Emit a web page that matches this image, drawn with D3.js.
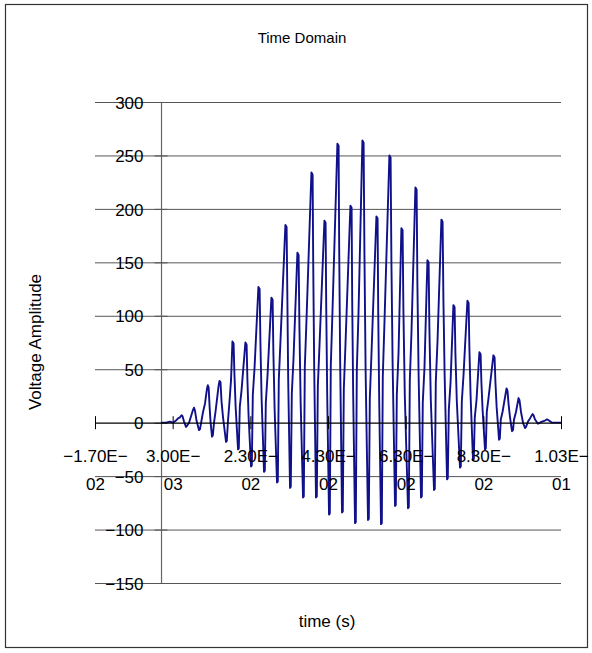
<!DOCTYPE html>
<html><head><meta charset="utf-8">
<script src="https://cdn.jsdelivr.net/npm/d3@7"></script>
<style>
body{margin:0;background:#fff}
svg{display:block}
text{font-family:"Liberation Sans",Arial,sans-serif;fill:#000}
</style>
</head><body>
<svg id="chart" width="592" height="653"></svg>
<script>
// ---- data, one row per oscillation ----
const timeS = [
  0,0.00129,0.00232,0.00309,0.00386,0.00438,0.00489,0.00528,0.00554,0.00592,
  0.00644,0.00670,0.00721,0.00773,0.00824,0.00850,0.00876,0.00914,0.00979,0.01004,
  0.01043,0.01082,0.01133,0.01185,0.01205,0.01226,0.01251,0.01277,0.01313,0.01334,
  0.01365,0.01403,0.01442,0.01481,0.01506,0.01532,0.01558,0.01597,0.01674,0.01694,
  0.01725,0.01764,0.01803,
  0.01839,0.01869,0.01890,0.01921,0.01983,0.02003,0.02029,0.02073,
  0.02173,0.02204,0.02225,0.02256,0.02318,0.02338,0.02364,0.02408,
  0.02508,0.02539,0.02560,0.02590,0.02652,0.02673,0.02699,0.02742,
  0.02843,0.02874,0.02894,0.02925,0.02987,0.03008,0.03033,0.03077,
  0.03203,0.03234,0.03250,0.03275,0.03322,0.03342,0.03368,0.03412,
  0.03512,0.03543,0.03564,0.03595,0.03657,0.03677,0.03703,0.03747,
  0.03873,0.03904,0.03919,0.03945,0.03991,0.04012,0.04038,0.04081,
  0.04208,0.04238,0.04254,0.04280,0.04326,0.04347,0.04372,0.04416,
  0.04542,0.04573,0.04589,0.04614,0.04661,0.04681,0.04707,0.04751,
  0.04877,0.04908,0.04923,0.04949,0.04996,0.05016,0.05042,0.05086,
  0.05186,0.05217,0.05238,0.05268,0.05330,0.05351,0.05377,0.05420,
  0.05547,0.05577,0.05593,0.05619,0.05665,0.05686,0.05711,0.05755,
  0.05881,0.05912,0.05933,0.05964,0.06026,0.06046,0.06072,0.06116,
  0.06190,0.06221,0.06242,0.06278,0.06360,0.06381,0.06407,0.06450,
  0.06551,0.06582,0.06602,0.06633,0.06695,0.06716,0.06741,0.06785,
  0.06860,0.06891,0.06911,0.06947,0.07030,0.07050,0.07076,0.07120,
  0.07220,0.07251,0.07272,0.07303,0.07365,0.07385,0.07411,0.07455,
  0.07529,0.07560,0.07581,0.07617,0.07699,0.07720,0.07746,0.07789,
  0.07890,0.07921,0.07941,0.07972,0.08034,0.08055,0.08080,0.08124,
  0.08199,0.08230,0.08250,0.08281,0.08343,0.08364,0.08389,0.08433,
  0.08559,0.08590,0.08611,0.08642,0.08704,0.08724,0.08750,0.08794,
  0.08897,0.08922,0.08948,0.08987,0.09038,0.09064,0.09090,0.09141,0.09206,0.09231,
  0.09270,0.09322,0.09373,0.09399,0.09450,0.09502,0.09566,0.09592,0.09631,0.09708,
  0.09759,0.09811,0.09888,0.09940,0.09991,0.10068,0.10171,0.10300];
const voltage = [
  0,0,1,0,2,4,5,7,6,1,
  -4,-3,0,6,12,14,11,2,-7,-6,
  2,10,18,32,35,33,15,0,-13,-12,
  0,10,22,34,39,38,20,5,-18,-17,
  2,20,40,
  76,74,46,15,-25,-24,15,30,
  75,73,40,5,-41,-40,26,51,
  127,125,75,23,-46,-45,19,44,
  117,115,65,13,-56,-55,40,77,
  185,183,130,40,-61,-60,27,60,
  159,157,90,20,-70,-69,52,97,
  234,232,150,50,-70,-69,34,72,
  189,187,110,25,-86,-85,53,105,
  261,259,160,55,-84,-83,31,74,
  203,201,115,25,-94,-93,49,103,
  264,262,160,50,-91,-90,23,65,
  193,191,105,20,-95,-94,43,95,
  250,248,150,55,-78,-77,26,65,
  182,180,105,25,-80,-79,40,85,
  220,218,130,45,-70,-69,19,52,
  152,150,88,22,-63,-62,38,76,
  190,188,115,45,-53,-52,12,37,
  110,108,65,20,-42,-41,20,44,
  114,112,70,25,-35,-34,5,21,
  66,64,38,12,-25,-24,10,23,
  63,61,38,15,-16,-15,3,10,
  32,30,18,5,-8,-7,3,10,23,21,
  10,0,-5,-4,1,4,8,7,3,-1,
  0,1,2,3,2,0,0,0];
const yTicks = [-150,-100,-50,0,50,100,150,200,250,300];
const xTicks = [-0.017,0.003,0.023,0.043,0.063,0.083,0.103];
const xTickLabels = ["-1.70E-02","3.00E-03","2.30E-02","4.30E-02","6.30E-02","8.30E-02","1.03E-01"];
const chartTitle = "Time Domain";
const xTitle = "time (s)";
const yTitle = "Voltage Amplitude";

// ---- layout ----
const svg = d3.select("#chart");
const x = d3.scaleLinear().domain([-0.017, 0.103]).range([95, 561]);
const y = d3.scaleLinear().domain([-150, 300]).range([583, 102]);
const fixMinus = s => String(s).replace(/-/g, "\u2212");
const n = Math.min(timeS.length, voltage.length);
const pts = d3.range(n).map(i => [timeS[i], voltage[i]]);

svg.append("rect").attr("x",5.5).attr("y",4.5).attr("width",582).attr("height",643)
  .attr("fill","#fff").attr("stroke","#333").attr("stroke-width",1.2);

// gridlines
const grid = svg.append("g").attr("transform","translate(95,0)")
  .call(d3.axisLeft(y).tickValues(yTicks.filter(d=>d!==0)).tickSize(-(561-95)).tickFormat(""));
grid.select(".domain").remove();
grid.selectAll("line").attr("stroke","#555").attr("stroke-width",1);

// y axis
const yAxis = svg.append("g").attr("transform",`translate(${x(0)},0)`)
  .call(d3.axisLeft(y).tickValues(yTicks).tickSizeInner(6.5).tickSizeOuter(0).tickPadding(11)
    .tickFormat(d => fixMinus(d)));
yAxis.select(".domain").attr("stroke","#666").attr("stroke-width",1.2);
yAxis.selectAll(".tick line").attr("x1",-6.5).attr("x2",6.5).attr("stroke","#555");
yAxis.selectAll(".tick text").attr("font-size",17).attr("font-family","Liberation Sans, Arial, sans-serif")
  .attr("fill","#000").attr("dy","0.36em");

// waveform
const line = d3.line().x(d => x(d[0])).y(d => y(d[1]));
svg.append("path").datum(pts).attr("d",line).attr("fill","none")
  .attr("stroke","#10108a").attr("stroke-width",1.9).attr("stroke-linejoin","round");

// x axis at y=0
const xAxis = svg.append("g").attr("transform",`translate(0,${y(0)})`)
  .call(d3.axisBottom(x).tickValues(xTicks).tickSizeInner(6.5).tickSizeOuter(0).tickFormat(""));
xAxis.select(".domain").attr("stroke","#000").attr("stroke-width",1.2);
xAxis.selectAll(".tick line").attr("y1",-6.5).attr("y2",6.5).attr("stroke","#000");
xAxis.selectAll(".tick").each(function(d,i){
  const lab = xTickLabels[i];
  const k = lab.indexOf("E-") >= 0 ? lab.indexOf("E-")+2 : lab.indexOf("E")+1;
  const t = d3.select(this).append("text").attr("text-anchor","middle").attr("font-size",17)
    .attr("font-family","Liberation Sans, Arial, sans-serif").attr("fill","#000");
  t.append("tspan").attr("x",0).attr("y",39).text(fixMinus(lab.slice(0,k)));
  t.append("tspan").attr("x",0).attr("y",67).text(lab.slice(k));
});

// titles
svg.append("text").attr("x",302).attr("y",43).attr("text-anchor","middle").attr("font-size",15).text(chartTitle);
svg.append("text").attr("x",327).attr("y",627).attr("text-anchor","middle").attr("font-size",17).text(xTitle);
svg.append("text").attr("transform","translate(41,342) rotate(-90)").attr("text-anchor","middle")
  .attr("font-size",17).text(yTitle);
</script>
</body></html>
